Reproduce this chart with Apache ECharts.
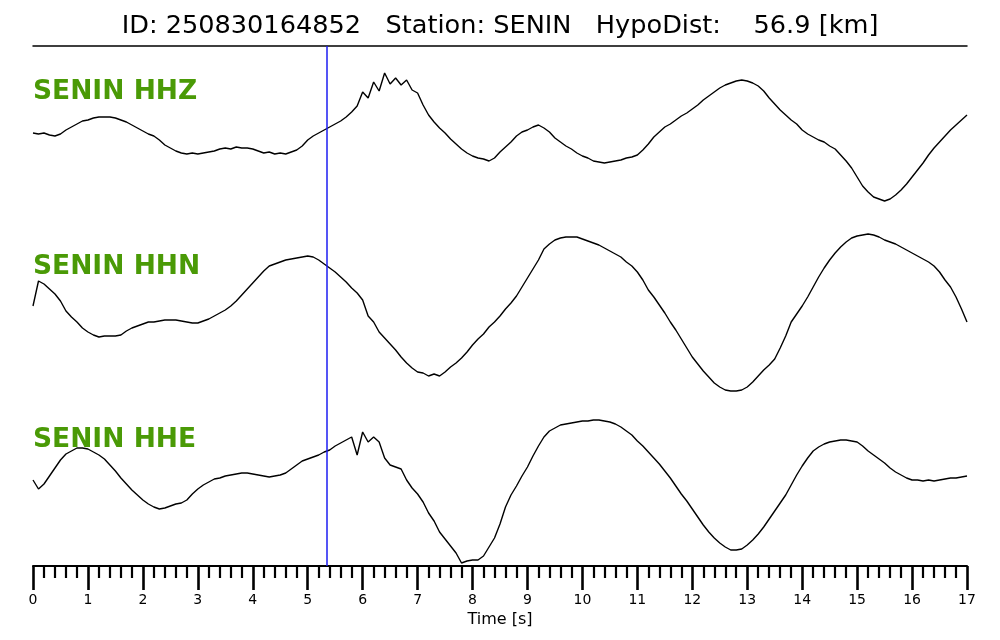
<!DOCTYPE html>
<html>
<head>
<meta charset="utf-8">
<script src="https://cdn.jsdelivr.net/npm/echarts@6/dist/echarts.min.js"></script>
<style>
html,body{margin:0;padding:0;background:#fff;}
#chart{width:1000px;height:640px;}
</style>
</head>
<body>
<div id="chart"></div>
<script>
// ---- data ----
const titleText = 'ID: 250830164852   Station: SENIN   HypoDist:    56.9 [km]';
const channelNames = ['SENIN HHZ', 'SENIN HHN', 'SENIN HHE'];
const pickTime = 5.35;          // s, blue marker
const sampleStep = 0.1;         // s between samples
const timeMin = 0, timeMax = 17, timeTickStep = 1;

// amplitudes (arbitrary units, up = positive), one sample every 0.1 s from 0 to 17 s
const hhz = [7,6,7,5,4,6,10,13,16,19,20,
  22,23,23,23,22,20,18,15,12,9,
  6,4,0,-5,-8,-11,-13,-14,-13,-14,
  -13,-12,-11,-9,-8,-9,-7,-8,-8,-9,
  -11,-13,-12,-14,-13,-14,-12,-10,-6,0,
  4,7,10,13,16,19,23,28,34,48,
  42,58,49,67,56,62,55,60,50,47,
  35,25,18,12,7,1,-4,-9,-13,-16,
  -18,-19,-21,-18,-12,-7,-2,4,8,10,
  13,15,12,8,2,-2,-6,-9,-13,-16,
  -18,-21,-22,-23,-22,-21,-20,-18,-17,-15,
  -10,-4,3,8,13,16,20,24,27,31,
  35,40,44,48,52,55,57,59,60,59,
  57,54,49,42,36,30,25,20,16,10,
  6,3,0,-2,-6,-9,-15,-21,-28,-37,
  -46,-52,-57,-59,-61,-59,-55,-50,-44,-37,
  -30,-23,-15,-8,-2,4,10,15,20,25];
const hhn = [7,32,29,24,19,12,2,-4,-9,-15,-19,
  -22,-24,-23,-23,-23,-22,-18,-15,-13,-11,
  -9,-9,-8,-7,-7,-7,-8,-9,-10,-10,
  -8,-6,-3,0,3,7,12,18,24,30,
  36,42,47,49,51,53,54,55,56,57,
  56,53,49,45,41,36,31,25,20,13,
  -3,-9,-19,-25,-31,-37,-44,-50,-55,-59,
  -60,-63,-61,-63,-59,-54,-50,-45,-39,-32,
  -26,-21,-14,-9,-3,4,10,17,26,35,
  44,53,64,69,73,75,76,76,76,74,
  72,70,68,65,62,59,56,51,47,41,
  33,23,16,8,0,-9,-17,-26,-35,-44,
  -51,-58,-64,-70,-74,-77,-78,-78,-77,-74,
  -69,-63,-57,-52,-46,-35,-23,-9,-1,7,
  16,26,36,45,53,60,66,71,75,77,
  78,79,78,76,73,71,69,66,63,60,
  57,54,51,47,41,33,26,16,4,-9];
const hhe = [10,1,6,14,22,30,36,39,42,42,41,
  38,35,31,25,19,12,6,0,-5,-10,
  -14,-17,-19,-18,-16,-14,-13,-10,-4,1,
  5,8,11,12,14,15,16,17,17,16,
  15,14,13,14,15,17,21,25,29,31,
  33,35,38,40,44,47,50,53,35,58,
  48,53,48,32,25,23,21,10,2,-4,
  -12,-23,-31,-42,-49,-56,-63,-73,-71,-70,
  -70,-66,-57,-48,-34,-17,-5,4,14,23,
  34,44,53,59,62,65,66,67,68,69,
  69,70,70,69,68,66,63,59,55,49,
  44,38,32,26,19,12,4,-4,-11,-19,
  -27,-35,-42,-48,-53,-57,-60,-60,-59,-55,
  -50,-44,-37,-29,-21,-13,-5,5,15,24,
  32,39,43,46,48,49,50,50,49,48,
  44,39,35,31,27,22,18,15,12,10,
  10,9,10,9,10,11,12,12,13,14];

// ---- layout (stacking of the traces on one shared y scale) ----
const traces = [hhz, hhn, hhe];
const traceOffsets = [94, 267, 444];
const labelY = [92, 267, 440];
const FONT = 'DejaVu Sans';

const chart = echarts.init(document.getElementById('chart'), null, {renderer: 'canvas'});

const series = traces.map((arr, k) => ({
  type: 'line',
  xAxisIndex: 0,
  yAxisIndex: 0,
  showSymbol: false,
  symbol: 'none',
  smooth: false,
  silent: true,
  lineStyle: {color: '#000', width: 1.4},
  data: arr.map((v, i) => [timeMin + i * sampleStep, v - traceOffsets[k]]),
  markLine: k === 0 ? {
    symbol: 'none', silent: true, animation: false,
    label: {show: false},
    lineStyle: {color: '#1c1cf2', width: 1.5, type: 'solid'},
    data: [{xAxis: pickTime}]
  } : undefined
}));

const graphics = [{
  type: 'text', x: 500, y: 26,
  style: {text: titleText, font: '25.6px "' + FONT + '"', fill: '#000',
    textAlign: 'center', textVerticalAlign: 'middle'}
}].concat(channelNames.map((n, k) => ({
  type: 'text', x: 33, y: labelY[k],
  style: {text: n, font: 'bold 26.5px "' + FONT + '"', fill: '#4a9a06',
    textAlign: 'left', textVerticalAlign: 'middle'}
})));

chart.setOption({
  animation: false,
  backgroundColor: '#fff',
  grid: {left: 33, right: 33, top: 46, bottom: 74, containLabel: false},
  xAxis: [{
    type: 'value', min: timeMin, max: timeMax, interval: timeTickStep, position: 'bottom',
    axisLine: {show: true, onZero: false, lineStyle: {color: '#000', width: 2}},
    axisTick: {show: true, length: 24, lineStyle: {color: '#000', width: 2.6}},
    minorTick: {show: true, splitNumber: 5, length: 12, lineStyle: {color: '#000', width: 2.2}},
    axisLabel: {color: '#000', fontSize: 14, fontFamily: FONT, margin: 27},
    splitLine: {show: false}, minorSplitLine: {show: false},
    name: 'Time [s]', nameLocation: 'middle', nameGap: 42,
    nameTextStyle: {color: '#000', fontSize: 16, fontFamily: FONT}
  }, {
    type: 'value', min: timeMin, max: timeMax, position: 'top',
    axisLine: {show: true, onZero: false, lineStyle: {color: '#000', width: 1.5}},
    axisTick: {show: false}, axisLabel: {show: false}, splitLine: {show: false}
  }],
  yAxis: [{
    type: 'value', min: -520, max: 0, show: false,
    splitLine: {show: false}
  }],
  series: series,
  graphic: graphics
});
</script>
</body>
</html>
